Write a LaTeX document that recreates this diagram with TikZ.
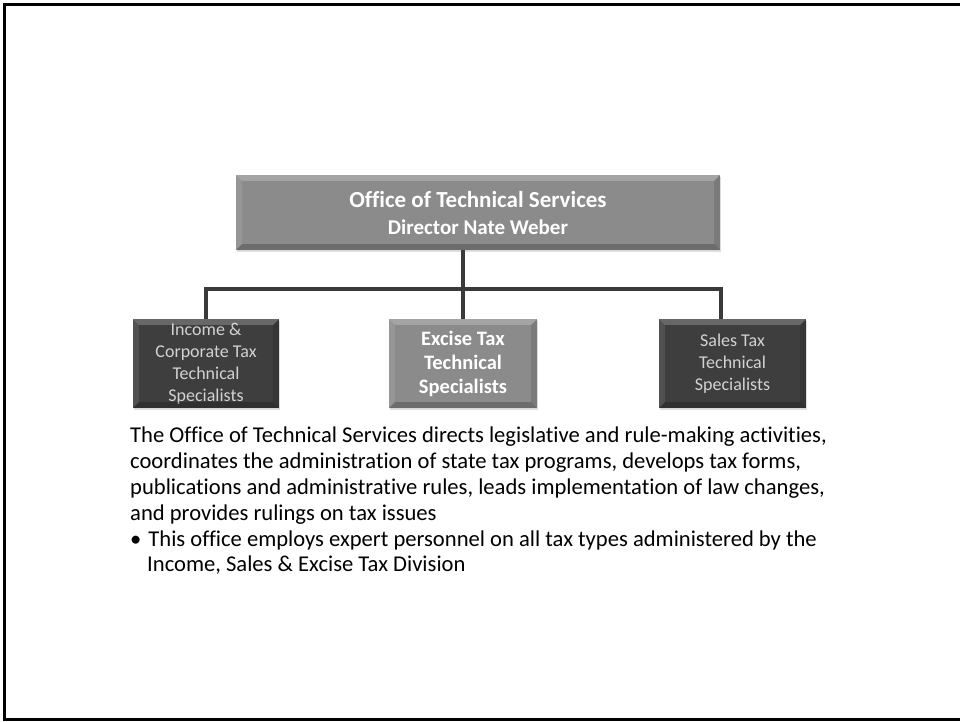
\documentclass[tikz,border=0pt]{standalone}
\usepackage{fontspec}
\setmainfont{Carlito}[Ligatures=NoCommon]
\usetikzlibrary{calc,shadows}

\definecolor{boxdark}{HTML}{3E3E3E}
\definecolor{boxmid}{HTML}{8B8B8B}
\definecolor{linkgray}{HTML}{3A3A3A}
\definecolor{textlight}{HTML}{D2D2D2}

\tikzset{
  unitbox/.style={inner sep=0pt, align=center, minimum height=89pt,
    drop shadow={opacity=.25, shadow xshift=1pt, shadow yshift=-2pt}},
  darkunit/.style={unitbox, fill=boxdark, text=textlight,
    font=\fontsize{18pt}{22pt}\selectfont},
  midunit/.style={unitbox, fill=boxmid, text=white,
    font=\fontsize{20.5pt}{24pt}\selectfont\bfseries},
  link/.style={draw=linkgray, line width=4pt},
  desc/.style={inner sep=0pt, align=left, text=black,
    font=\fontsize{22.6pt}{25.8pt}\selectfont}
}

\begin{document}
\begin{tikzpicture}[x=1pt, y=-1pt]
  \useasboundingbox (0,0) rectangle (960,721);
  \draw[line width=3pt] (962,4) -- (4,4) -- (4,719) -- (962,719);

  % head of the office
  \node[unitbox, fill=boxmid, text=white, minimum width=484pt, minimum height=75pt,
        font=\fontsize{23pt}{27pt}\selectfont\bfseries] (director) at (478,212.5)
    {Office of Technical Services\\
     \fontsize{21pt}{27pt}\selectfont Director Nate Weber};

  % the three specialist groups
  \node[darkunit, minimum width=146pt] (income) at (206,363.5)
    {Income \&\\Corporate Tax\\Technical\\Specialists};
  \node[midunit, minimum width=148pt] (excise) at (463,363.5)
    {Excise Tax\\Technical\\Specialists};
  \node[darkunit, minimum width=147pt] (sales) at (732.5,363.5)
    {Sales Tax\\Technical\\Specialists};

  % bevelled edges
  \foreach \n in {director, income, excise, sales} {
    \fill[white, opacity=.22] (\n.north west) -- (\n.north east)
      -- ($(\n.north east)+(-6,6)$) -- ($(\n.north west)+(6,6)$) -- cycle;
    \fill[white, opacity=.1] (\n.north west) -- ($(\n.north west)+(6,6)$)
      -- ($(\n.south west)+(6,-6)$) -- (\n.south west) -- cycle;
    \fill[black, opacity=.12] (\n.north east) -- (\n.south east)
      -- ($(\n.south east)+(-6,-6)$) -- ($(\n.north east)+(-6,6)$) -- cycle;
    \fill[black, opacity=.22] (\n.south west) -- (\n.south east)
      -- ($(\n.south east)+(-6,-6)$) -- ($(\n.south west)+(6,-6)$) -- cycle;
  }

  % tree lines
  \coordinate (hub) at (463,289);
  \draw[link] (hub |- director.south) -- (excise.north);
  \draw[link] (income.north) |- (hub) -| ($(sales.north)+(-12,0)$);

  \node[desc, anchor=north west] (about) at (130,427)
    {The Office of Technical Services directs legislative and rule-making activities,\\
     coordinates the administration of state tax programs, develops tax forms,\\
     publications and administrative rules, leads implementation of law changes,\\
     and provides rulings on tax issues\\
     \textbullet\hspace*{7pt}This office employs expert personnel on all tax types administered by the\\
     \hspace*{17pt}Income, Sales \& Excise Tax Division};
\end{tikzpicture}
\end{document}
